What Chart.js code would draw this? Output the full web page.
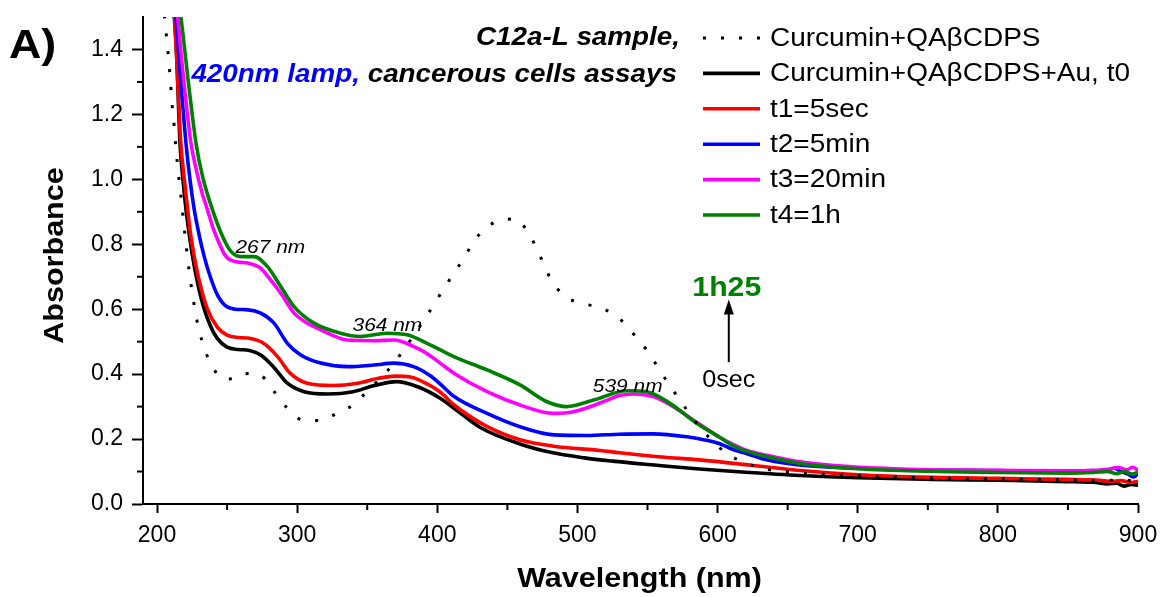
<!DOCTYPE html>
<html>
<head>
<meta charset="utf-8">
<script src="https://cdn.jsdelivr.net/npm/chart.js@4.4.1/dist/chart.umd.min.js"></script>
<style>
  html, body { margin: 0; padding: 0; background: #fff; }
  #uvvis { display: block; }
</style>
</head>
<body>
<canvas id="uvvis" width="1162" height="597"></canvas>
<script>
// UV-Vis spectra, wavelength (nm) / absorbance pairs per series
var refWl = [204, 206.4, 208, 209.5, 210.7, 212.3, 213.7, 215.4, 217.3, 219, 220.9, 223, 225.4, 228.3, 232.5, 238.5, 248, 255, 261, 268, 274.6, 284, 292.6, 303.8, 316, 328.7, 339.9, 347, 357, 368, 377.4, 385.7, 394, 402.3, 410.6, 418.9, 427.2, 439.8, 455.7, 465.2, 472.8, 480.6, 490.6, 503.6, 517.4, 529.8, 540.5, 550, 558, 566.5, 575.6, 584.6, 595.3, 606.5, 620, 635, 649, 700, 800, 900];
var refAbs = [1.56, 1.456, 1.384, 1.307, 1.233, 1.161, 1.086, 1.012, 0.939, 0.867, 0.791, 0.716, 0.644, 0.569, 0.497, 0.431, 0.385, 0.386, 0.4, 0.402, 0.395, 0.344, 0.297, 0.259, 0.257, 0.28, 0.305, 0.334, 0.377, 0.428, 0.483, 0.536, 0.59, 0.647, 0.703, 0.757, 0.816, 0.865, 0.878, 0.834, 0.769, 0.696, 0.641, 0.618, 0.603, 0.572, 0.521, 0.471, 0.417, 0.361, 0.305, 0.251, 0.199, 0.156, 0.126, 0.107, 0.099, 0.087, 0.077, 0.072];

var t0Wl = [209, 212.3, 214, 216.4, 218.5, 220.7, 223, 225.4, 229, 233, 238, 243, 250, 258, 266, 274, 283, 293, 305, 322, 340, 355, 371, 386, 402, 415, 431, 459, 480, 505, 525, 555, 587, 620, 659, 700, 753, 800, 849, 870, 878, 885, 890, 895, 900];
var t0Abs = [1.62, 1.5, 1.38, 1.11, 1.0, 0.906, 0.83, 0.762, 0.68, 0.61, 0.55, 0.51, 0.483, 0.476, 0.473, 0.459, 0.423, 0.372, 0.346, 0.339, 0.346, 0.365, 0.377, 0.361, 0.326, 0.285, 0.235, 0.185, 0.16, 0.142, 0.132, 0.12, 0.108, 0.098, 0.088, 0.081, 0.076, 0.073, 0.069, 0.066, 0.062, 0.064, 0.055, 0.06, 0.058];

var t1Wl = [209.5, 212.5, 217, 219.5, 221.9, 224, 226.6, 230, 236, 243, 250, 258, 265, 276, 286, 295, 307, 326, 343, 358, 370, 380, 388, 402, 412, 435, 459, 483, 516, 530, 560, 587, 623, 659, 700, 753, 800, 849, 870, 880, 888, 895, 900];
var t1Abs = [1.62, 1.5, 1.11, 1.0, 0.906, 0.83, 0.762, 0.69, 0.6, 0.545, 0.52, 0.513, 0.511, 0.495, 0.454, 0.403, 0.372, 0.365, 0.372, 0.387, 0.394, 0.392, 0.38, 0.345, 0.305, 0.24, 0.198, 0.178, 0.165, 0.158, 0.145, 0.136, 0.12, 0.103, 0.09, 0.082, 0.079, 0.076, 0.074, 0.07, 0.072, 0.066, 0.07];

var t2Wl = [210, 213.5, 217, 220.7, 223.5, 226.6, 230, 233.7, 238, 243, 249, 256, 265, 274, 283.5, 293, 302.6, 316.8, 335.8, 354.8, 369, 383, 395, 402, 412, 435.5, 459, 483, 507, 530, 554, 578, 590, 602, 611, 621, 635, 658, 682, 730, 800, 850, 868, 876, 883, 888, 893, 897, 900];
var t2Abs = [1.62, 1.5, 1.3, 1.11, 1.0, 0.906, 0.83, 0.762, 0.7, 0.645, 0.61, 0.6, 0.598, 0.588, 0.557, 0.495, 0.459, 0.434, 0.423, 0.428, 0.434, 0.423, 0.395, 0.37, 0.331, 0.279, 0.238, 0.213, 0.211, 0.215, 0.216, 0.207, 0.198, 0.185, 0.168, 0.155, 0.136, 0.12, 0.113, 0.106, 0.103, 0.1, 0.103, 0.1, 0.11, 0.1, 0.092, 0.083, 0.095];

var t3Wl = [211, 214.7, 218, 224.2, 228, 232, 236, 240, 244.4, 248, 252, 258, 264.6, 274, 281, 288.3, 297.8, 306, 314.5, 325, 335.8, 354.8, 369, 383.3, 392, 402, 411.8, 435.5, 459, 483, 497, 518.6, 530, 540, 554, 568.4, 585, 601.7, 611, 621, 635, 658.7, 694, 730, 800, 850, 870, 880, 886, 892, 896, 900];
var t3Abs = [1.62, 1.5, 1.35, 1.112, 1.03, 0.96, 0.906, 0.85, 0.803, 0.77, 0.752, 0.745, 0.742, 0.726, 0.69, 0.649, 0.588, 0.56, 0.541, 0.52, 0.505, 0.503, 0.505, 0.485, 0.465, 0.434, 0.403, 0.346, 0.305, 0.279, 0.284, 0.315, 0.334, 0.339, 0.331, 0.3, 0.252, 0.205, 0.184, 0.165, 0.15, 0.13, 0.115, 0.108, 0.104, 0.102, 0.104, 0.108, 0.112, 0.105, 0.113, 0.104];

var t4Wl = [212, 217, 221.9, 227.8, 232.5, 239.6, 246.8, 252.7, 259.8, 269.3, 278.8, 288.3, 297.8, 312, 331, 345.3, 364, 378.5, 392.7, 411.8, 435.5, 459, 478.3, 492.5, 511.5, 535.2, 549.5, 566, 585, 601.7, 611, 621, 635, 658.7, 694, 730, 800, 850, 868, 878, 885, 890, 896, 900];
var t4Abs = [1.62, 1.5, 1.317, 1.112, 1.009, 0.906, 0.824, 0.778, 0.762, 0.762, 0.731, 0.67, 0.608, 0.557, 0.526, 0.516, 0.526, 0.521, 0.495, 0.454, 0.413, 0.367, 0.315, 0.3, 0.32, 0.349, 0.346, 0.31, 0.249, 0.205, 0.18, 0.162, 0.146, 0.125, 0.11, 0.103, 0.097, 0.095, 0.097, 0.1, 0.093, 0.1, 0.092, 0.098];

var seriesLabels = ["Curcumin+QA\u03b2CDPS", "Curcumin+QA\u03b2CDPS+Au, t0", "t1=5sec", "t2=5min", "t3=20min", "t4=1h"];
var seriesColors = ["#000000", "#000000", "#ff0000", "#0000ff", "#ff00ff", "#008000"];

// peak labels: text, wavelength where the text starts, absorbance of baseline
var peakText = ["267 nm", "364 nm", "539 nm"];
var peakWl = [256, 339.5, 511];
var peakAbs = [0.79, 0.55, 0.36];

var xTicks = [200, 300, 400, 500, 600, 700, 800, 900];
var yTicks = [0, 0.2, 0.4, 0.6, 0.8, 1.0, 1.2, 1.4];

var FONT = "'Liberation Sans', Arial, sans-serif";
var WIDE = 1.1; // horizontal stretch used for the hand-drawn text

function pairs(xs, ys) {
  return xs.map(function (v, i) {
    return { x: v, y: ys[i] };
  });
}

function lineSet(idx, xs, ys, order, dash) {
  return {
    label: seriesLabels[idx],
    data: pairs(xs, ys),
    borderColor: seriesColors[idx],
    backgroundColor: seriesColors[idx],
    borderWidth: dash ? 3 : 3.6,
    borderDash: dash || [],
    pointRadius: 0,
    cubicInterpolationMode: "monotone",
    order: order,
  };
}

var datasets = [
  lineSet(0, refWl, refAbs, 0, [3, 15]),
  lineSet(1, t0Wl, t0Abs, 5),
  lineSet(2, t1Wl, t1Abs, 4),
  lineSet(3, t2Wl, t2Abs, 3),
  lineSet(4, t3Wl, t3Abs, 2),
  lineSet(5, t4Wl, t4Abs, 1),
];

function stroke(ctx, x1, y1, x2, y2) {
  ctx.beginPath();
  ctx.moveTo(x1, y1);
  ctx.lineTo(x2, y2);
  ctx.stroke();
}

function wideText(ctx, text, x, y, align, sx) {
  ctx.save();
  ctx.translate(x, y);
  ctx.scale(sx || WIDE, 1);
  ctx.textAlign = align;
  ctx.fillText(text, 0, 0);
  ctx.restore();
}

var decorations = {
  id: "decorations",
  afterDraw: function (chart) {
    var ctx = chart.ctx;
    var ca = chart.chartArea;
    var x = chart.scales.x;
    var y = chart.scales.y;
    ctx.save();
    ctx.textBaseline = "middle";

    // minor ticks
    ctx.strokeStyle = "#000";
    ctx.lineWidth = 2;
    for (var v = 250; v < 900; v += 100) {
      var px = x.getPixelForValue(v);
      stroke(ctx, px, ca.bottom, px, ca.bottom + 6);
    }
    for (var k = 1; k < 15; k += 2) {
      var py = y.getPixelForValue(k / 10);
      stroke(ctx, ca.left, py, ca.left - 6, py);
    }

    // axis titles
    ctx.fillStyle = "#000";
    ctx.font = "bold 28px " + FONT;
    wideText(ctx, "Wavelength (nm)", (ca.left + ca.right) / 2 - 1, 579, "center", 1.09);
    ctx.save();
    ctx.translate(55, (ca.top + ca.bottom) / 2 - 5);
    ctx.rotate(-Math.PI / 2);
    wideText(ctx, "Absorbance", 0, 0, "center", 1.09);
    ctx.restore();

    // panel letter
    ctx.font = "bold 40px " + FONT;
    wideText(ctx, "A)", 9, 47, "left", 1.12);

    // sample description
    ctx.font = "italic bold 26px " + FONT;
    wideText(ctx, "C12a-L sample,", 680, 38, "right", 1.07);
    var rest = "cancerous cells assays";
    wideText(ctx, rest, 677, 75, "right", 1.07);
    var restW = ctx.measureText(" " + rest).width * 1.07;
    ctx.fillStyle = "#0000ff";
    wideText(ctx, "420nm lamp,", 677 - restW, 75, "right", 1.07);

    // peak positions
    ctx.fillStyle = "#000";
    ctx.font = "italic 19px " + FONT;
    peakText.forEach(function (t, i) {
      wideText(ctx, t, x.getPixelForValue(peakWl[i]), y.getPixelForValue(peakAbs[i]), "left", 1.1);
    });

    // time arrow
    var ax = x.getPixelForValue(608);
    var yFrom = y.getPixelForValue(0.437);
    var yTip = y.getPixelForValue(0.63);
    ctx.lineWidth = 2;
    stroke(ctx, ax, yFrom, ax, yTip + 12);
    ctx.beginPath();
    ctx.moveTo(ax, yTip);
    ctx.lineTo(ax - 5, yTip + 15);
    ctx.lineTo(ax + 5, yTip + 15);
    ctx.closePath();
    ctx.fill();
    ctx.font = "24px " + FONT;
    wideText(ctx, "0sec", ax, y.getPixelForValue(0.382), "center", 1.05);
    ctx.fillStyle = "#008000";
    ctx.font = "bold 28px " + FONT;
    wideText(ctx, "1h25", ax - 2, y.getPixelForValue(0.665), "center", 1.08);

    // legend
    ctx.font = "25px " + FONT;
    chart.data.datasets.forEach(function (ds, i) {
      var ly = 38 + i * 35.4;
      ctx.strokeStyle = ds.borderColor;
      ctx.lineWidth = ds.borderWidth;
      ctx.setLineDash(ds.borderDash);
      stroke(ctx, 703, ly, 760, ly);
      ctx.setLineDash([]);
      ctx.fillStyle = "#000";
      wideText(ctx, ds.label, 770, ly + 1, "left", 1.12);
    });

    ctx.restore();
  },
};

new Chart(document.getElementById("uvvis"), {
  type: "line",
  data: { datasets: datasets },
  options: {
    responsive: false,
    animation: false,
    layout: { padding: { top: 17, right: 24, left: 0, bottom: 0 } },
    plugins: {
      legend: { display: false },
      tooltip: { enabled: false },
    },
    scales: {
      x: {
        type: "linear",
        min: 190,
        max: 900,
        afterBuildTicks: function (s) {
          s.ticks = xTicks.map(function (v) {
            return { value: v };
          });
        },
        afterFit: function (s) {
          s.height = 93;
          s.paddingLeft = 0;
          s.paddingRight = 0;
        },
        ticks: {
          color: "#000",
          font: { size: 23, family: FONT },
          padding: 9,
          maxRotation: 0,
          autoSkip: false,
        },
        grid: { drawOnChartArea: false, tickLength: 9, tickWidth: 2, tickColor: "#000" },
        border: { color: "#000", width: 2 },
      },
      y: {
        min: 0,
        max: 1.5,
        afterBuildTicks: function (s) {
          s.ticks = yTicks.map(function (v) {
            return { value: v };
          });
        },
        afterFit: function (s) {
          s.width = 143;
          s.paddingTop = 0;
          s.paddingBottom = 0;
        },
        ticks: {
          color: "#000",
          font: { size: 23, family: FONT },
          padding: 9,
          callback: function (v) {
            return Number(v).toFixed(1);
          },
        },
        grid: { drawOnChartArea: false, tickLength: 11, tickWidth: 2, tickColor: "#000" },
        border: { color: "#000", width: 2 },
      },
    },
  },
  plugins: [decorations],
});
</script>
</body>
</html>
